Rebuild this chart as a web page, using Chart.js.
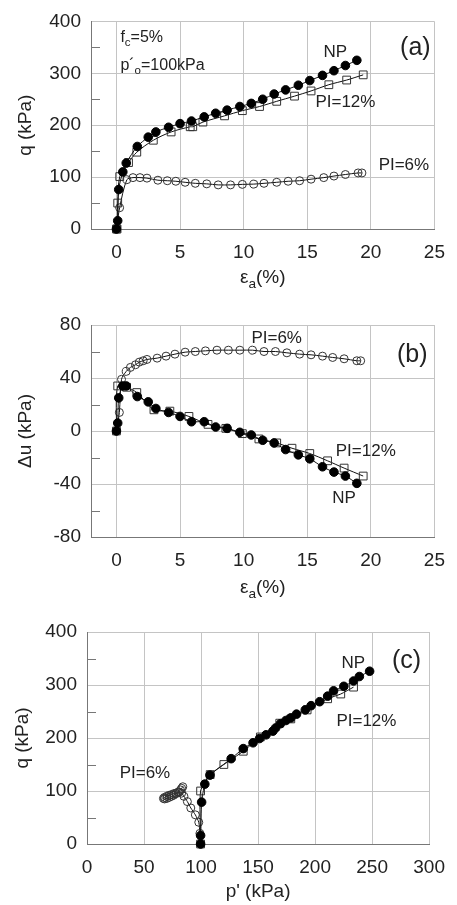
<!DOCTYPE html>
<html>
<head>
<meta charset="utf-8">
<script src="https://cdn.jsdelivr.net/npm/chart.js@4.4.1/dist/chart.umd.min.js"></script>
<style>
  body { margin: 0; background: #fff; }
  .panel { position: absolute; left: 0; }
</style>
</head>
<body>
<canvas id="chartA" class="panel" style="top:0" width="457" height="295"></canvas>
<canvas id="chartB" class="panel" style="top:295px" width="457" height="305"></canvas>
<canvas id="chartC" class="panel" style="top:600px" width="457" height="305"></canvas>
<script>
// ticks
const strainTicks = [0, 5, 10, 15, 20, 25];
const qTicks = [0, 100, 200, 300, 400];
const qMinor = [50, 150, 250, 350];
const duTicks = [-80, -40, 0, 40, 80];
const duMinor = [-60, -20, 20, 60];
const pTicks = [0, 50, 100, 150, 200, 250, 300];

// NP (filled circles)
const strainNP = [0, 0.1, 0.18, 0.5, 0.77, 1.64, 2.5, 3.1, 4.1, 5.0, 5.9, 6.9, 7.8, 8.7, 9.7, 10.6, 11.5, 12.4, 13.3, 14.3, 15.2, 16.2, 17.1, 18.0, 18.9];
const qNP = [0, 16, 76, 110, 127, 159, 177, 187, 196, 203, 208, 216, 223, 229, 236, 242, 250, 260, 268, 277, 286, 296, 305, 315, 325];
const duNP = [0, 6, 25, 34, 34, 26, 22, 17, 14, 11, 7, 7, 3, 2, -1, -3, -7, -9, -14, -18, -21, -27, -31, -34, -39.5];
const pNP = [99.6, 99.6, 100.5, 103.3, 107.8, 126.4, 137, 145.6, 151.3, 157, 163, 165.4, 169.6, 174.4, 178.7, 183.7, 191.4, 196.5, 204, 211, 216.2, 225.2, 233.7, 238.8, 247.8];
const qNPpath = [0, 16, 79, 113, 130, 161, 180, 191, 199, 206, 213, 219, 227, 233, 238, 245, 253, 261, 268.5, 279, 289, 297.5, 307.5, 316, 326];

// PI=12% (open squares)
const strainPI12a = [0, 0.05, 0.1, 0.26, 0.95, 1.6, 2.9, 4.3, 5.8, 6.0, 6.8, 8.5, 9.9, 11.25, 12.6, 14.0, 15.3, 16.7, 18.1, 19.4];
const qPI12 = [0, 0, 50, 101, 128, 148, 171, 187, 197, 197, 206, 218, 228, 236, 246, 256, 266, 278, 287, 297];
const strainPI12b = [0, 0.1, 0.8, 1.6, 2.95, 4.2, 5.7, 7.2, 8.6, 9.9, 11.2, 12.6, 13.8, 15.2, 16.6, 17.9, 19.4];
const duPI12 = [0, 34, 33, 29, 16, 15, 11, 5, 2, -2, -6, -9, -13, -17, -22.5, -28, -34];
const pPI12 = [99.6, 99.6, 108, 120, 137, 152, 169, 178.7, 193, 211, 222.5, 233.7];
const qPI12path = [0, 100, 131, 150, 175, 202, 228, 236, 253, 274, 283, 296];

// PI=6% (open circles)
const strainPI6a = [0, 0.25, 0.82, 1.3, 1.85, 2.4, 3.26, 4.0, 4.67, 5.4, 6.2, 7.1, 8.0, 8.97, 9.9, 10.8, 11.6, 12.6, 13.5, 14.4, 15.3, 16.3, 17.1, 18.0, 19.0, 19.3];
const qPI6 = [0, 41, 95, 99, 99, 98, 94, 93, 92, 90, 88, 87, 85, 85, 86, 86.5, 88, 90, 92, 93, 96, 99, 102, 105, 108, 108];
const strainPI6b = [0, 0.23, 0.4, 0.77, 1.1, 1.5, 1.8, 2.1, 2.4, 3.2, 3.9, 4.6, 5.4, 6.2, 7.0, 7.9, 8.8, 9.7, 10.7, 11.6, 12.5, 13.4, 14.4, 15.3, 16.2, 17.0, 17.9, 18.9, 19.2];
const duPI6 = [0, 14, 39, 45, 48, 50, 52, 53, 54, 55, 56.5, 58, 59.5, 60, 60.5, 61, 61, 61, 61, 60, 60, 59, 58, 57.5, 56.5, 55.5, 54.5, 53, 53];
const pPI6 = [99.6, 99, 98, 95, 91, 88, 85, 83, 81, 78, 76, 74, 72, 70, 68, 67, 68, 70, 72, 74, 76, 78, 80, 82, 83, 84];
const qPI6path = [0, 20, 41, 55, 68, 80, 90, 96, 98, 96, 95, 93, 92, 90, 88, 86, 85, 86, 88, 90, 92, 95, 98, 102, 105, 108];

const FONT = "'Liberation Sans', Arial, sans-serif";
Chart.defaults.font.family = FONT;
Chart.defaults.color = '#222';

function pts(xs, ys) {
  return xs.map((x, i) => ({ x: x, y: ys[i] }));
}

// text with optional subscripts: nested array = subscript
function drawParts(ctx, parts, x, y, size, align) {
  let items = parts.map(p => Array.isArray(p) ? { t: p[0], sub: true } : { t: p, sub: false });
  let w = 0;
  items.forEach(p => {
    ctx.font = (p.sub ? size * 0.72 : size) + 'px ' + FONT;
    p.w = ctx.measureText(p.t).width;
    w += p.w;
  });
  let cx = align === 'left' ? x : x - w / 2;
  ctx.textAlign = 'left';
  ctx.textBaseline = 'middle';
  items.forEach(p => {
    ctx.font = (p.sub ? size * 0.72 : size) + 'px ' + FONT;
    ctx.fillText(p.t, cx, p.sub ? y + size * 0.32 : y);
    cx += p.w;
  });
}

const extras = {
  id: 'extras',
  beforeDatasetsDraw(chart, args, opts) {
    const ctx = chart.ctx, a = chart.chartArea, sy = chart.scales.y;
    ctx.save();
    ctx.strokeStyle = '#777';
    ctx.lineWidth = 1;
    (opts.minor || []).forEach(v => {
      const y = Math.round(sy.getPixelForValue(v)) + 0.5;
      ctx.beginPath();
      ctx.moveTo(a.left, y);
      ctx.lineTo(a.left + 9, y);
      ctx.stroke();
    });
    ctx.restore();
  },
  afterDraw(chart, args, opts) {
    const ctx = chart.ctx, a = chart.chartArea, sx = chart.scales.x, sy = chart.scales.y;
    ctx.save();
    ctx.fillStyle = '#222';
    (opts.notes || []).forEach(n => {
      drawParts(ctx, n.parts, sx.getPixelForValue(n.x), sy.getPixelForValue(n.y), n.size, n.align);
    });
    if (opts.xTitle) drawParts(ctx, opts.xTitle, (a.left + a.right) / 2, a.bottom + opts.xTitleGap, 19, 'center');
    ctx.restore();
  }
};

function sets(np, pi12, pi6, tension) {
  const base = { showLine: true, borderColor: '#111', borderWidth: 1, tension: tension, clip: false, pointBorderWidth: 1 };
  return [
    Object.assign({ label: 'NP', data: np, pointStyle: 'circle', pointRadius: 4.3,
      pointBackgroundColor: '#000', pointBorderColor: '#000' }, base),
    Object.assign({ label: 'PI=12%', data: pi12, pointStyle: 'rect', pointRadius: 5.5,
      pointBackgroundColor: 'rgba(0,0,0,0)', pointBorderColor: '#333' }, base),
    Object.assign({ label: 'PI=6%', data: pi6, pointStyle: 'circle', pointRadius: 4,
      pointBackgroundColor: 'rgba(0,0,0,0)', pointBorderColor: '#333' }, base)
  ];
}

function xAxis(min, max, ticks, h) {
  return {
    type: 'linear', min: min, max: max,
    afterBuildTicks: s => { s.ticks = ticks.map(v => ({ value: v })); },
    afterFit: s => { s.height = h; },
    grid: { color: '#c4c4c4', drawTicks: false },
    border: { color: '#777' },
    ticks: { padding: 12, font: { size: 19 }, color: '#222' }
  };
}

function yAxis(min, max, ticks, w, title, tpad) {
  return {
    type: 'linear', min: min, max: max,
    afterBuildTicks: s => { s.ticks = ticks.map(v => ({ value: v })); },
    afterFit: s => { s.width = w; },
    grid: { color: '#c4c4c4', drawTicks: false },
    border: { color: '#777' },
    ticks: { padding: 10, font: { size: 19 }, color: '#222' },
    title: { display: true, text: title, font: { size: 19 }, color: '#222', padding: { top: tpad } }
  };
}

function makeChart(id, datasets, x, y, pad, extraOpts) {
  return new Chart(document.getElementById(id), {
    type: 'scatter',
    data: { datasets: datasets },
    options: {
      responsive: false,
      animation: false,
      layout: { padding: pad },
      scales: { x: x, y: y },
      plugins: { legend: { display: false }, tooltip: { enabled: false }, extras: extraOpts }
    },
    plugins: [extras]
  });
}

// (a) q vs axial strain
makeChart('chartA',
  sets(pts(strainNP, qNP), pts(strainPI12a, qPI12), pts(strainPI6a, qPI6), 0.3),
  xAxis(-2, 25, strainTicks, 66),
  yAxis(0, 400, qTicks, 91, 'q (kPa)', 14),
  { left: 0, top: 16, right: 14, bottom: 0 },
  {
    minor: qMinor,
    xTitle: ['ε', ['a'], '(%)'], xTitleGap: 49,
    notes: [
      { x: 0.31, y: 368, parts: ['f', ['c'], '=5%'], size: 16, align: 'left' },
      { x: 0.31, y: 314, parts: ['p´', ['o'], '=100kPa'], size: 16, align: 'left' },
      { x: 17.2, y: 340, parts: ['NP'], size: 17 },
      { x: 18.0, y: 244, parts: ['PI=12%'], size: 17 },
      { x: 22.6, y: 123, parts: ['PI=6%'], size: 17 },
      { x: 23.5, y: 349, parts: ['(a)'], size: 25 }
    ]
  });

// (b) excess pore pressure vs axial strain
makeChart('chartB',
  sets(pts(strainNP, duNP), pts(strainPI12b, duPI12), pts(strainPI6b, duPI6), 0.3),
  xAxis(-2, 25, strainTicks, 63),
  yAxis(-80, 80, duTicks, 91, 'Δu (kPa)', 14),
  { left: 0, top: 30, right: 14, bottom: 0 },
  {
    minor: duMinor,
    xTitle: ['ε', ['a'], '(%)'], xTitleGap: 51,
    notes: [
      { x: 12.6, y: 69.8, parts: ['PI=6%'], size: 17 },
      { x: 19.6, y: -15.4, parts: ['PI=12%'], size: 17 },
      { x: 17.9, y: -50.6, parts: ['NP'], size: 17 },
      { x: 23.25, y: 56.9, parts: ['(b)'], size: 25 }
    ]
  });

// (c) stress path
makeChart('chartC',
  sets(pts(pNP, qNPpath), pts(pPI12, qPI12path), pts(pPI6, qPI6path), 0.2),
  xAxis(0, 300, pTicks, 61),
  yAxis(0, 400, qTicks, 87, 'q (kPa)', 11),
  { left: 0, top: 32, right: 15, bottom: 0 },
  {
    minor: qMinor,
    xTitle: ["p' (kPa)"], xTitleGap: 48,
    notes: [
      { x: 233.4, y: 341.5, parts: ['NP'], size: 17 },
      { x: 245, y: 231.4, parts: ['PI=12%'], size: 17 },
      { x: 50.8, y: 134, parts: ['PI=6%'], size: 17 },
      { x: 280.2, y: 344.6, parts: ['(c)'], size: 25 }
    ]
  });
</script>
</body>
</html>
